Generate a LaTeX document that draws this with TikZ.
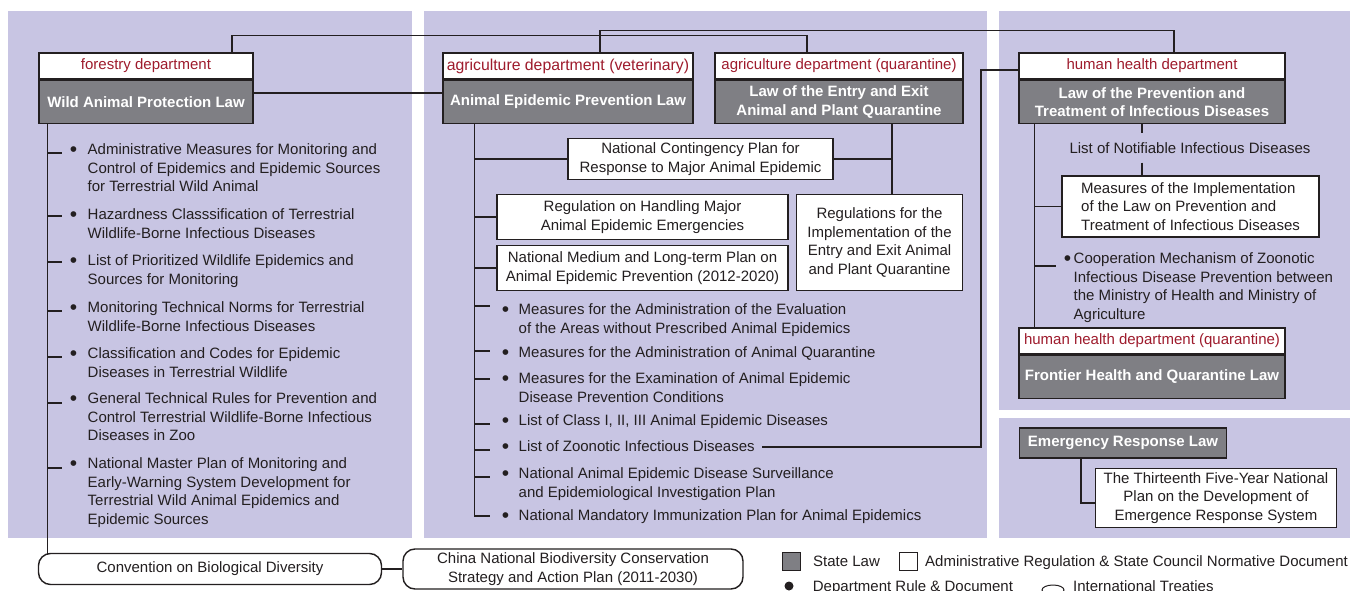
\documentclass[tikz,border=0pt]{standalone}
\usepackage{fontspec}
\setmainfont{Liberation Sans}
\usetikzlibrary{positioning,shapes.geometric}
\definecolor{panelbg}{RGB}{200,197,227}
\definecolor{lawgray}{RGB}{127,127,132}
\definecolor{deptred}{RGB}{158,27,44}
\definecolor{ink}{RGB}{35,31,32}
\newcommand{\bul}[1]{\llap{\raisebox{-2pt}{\fontsize{21}{21}\selectfont\textbullet}\hspace{#1pt}}}

\begin{document}
\begin{tikzpicture}[x=1pt,y=-1pt,color=ink,line width=1.4pt,
  font=\fontsize{15}{18.5}\selectfont,
  dept/.style={draw,fill=white,text=deptred,minimum width=#1,minimum height=26,inner sep=0},
  law/.style={draw,fill=lawgray,text=white,font=\fontsize{15}{18.5}\selectfont\bfseries,
    minimum width=#1,minimum height=43,inner sep=0,align=center},
  reg/.style={draw,fill=white,align=center,inner sep=0},
  item/.style={anchor=north west,align=left,inner sep=0},
  treaty/.style={draw,fill=white,rounded corners=12,align=center,inner sep=0},
  key/.style={inner sep=0,text height=10.7,text depth=0}]
  \fill[white] (0,0) rectangle (1362,591);
  \useasboundingbox (0,0) rectangle (1362,591);
  % panels
  \fill[panelbg] (8,11) rectangle (412,538);
  \fill[panelbg] (424,11) rectangle (987,538);
  \fill[panelbg] (999,11) rectangle (1350,410);
  \fill[panelbg] (999,418) rectangle (1350,538);

  % forestry
  \node[dept=214] (fd) at (146,66) {forestry department};
  \node[law=214,below=0pt of fd] (fl) {Wild Animal Protection Law};
  \node[item] (w1) at (87,143) {\bul{10.4}Administrative Measures for Monitoring and\\Control of Epidemics and Epidemic Sources\\for Terrestrial Wild Animal};
  \node[item] (w2) at (87,208) {\bul{10.4}Hazardness Classsification of Terrestrial\\Wildlife-Borne Infectious Diseases};
  \node[item] (w3) at (87,254) {\bul{10.4}List of Prioritized Wildlife Epidemics and\\Sources for Monitoring};
  \node[item] (w4) at (87,301) {\bul{10.4}Monitoring Technical Norms for Terrestrial\\Wildlife-Borne Infectious Diseases};
  \node[item] (w5) at (87,347) {\bul{10.4}Classification and Codes for Epidemic\\Diseases in Terrestrial Wildlife};
  \node[item] (w6) at (87,392) {\bul{10.4}General Technical Rules for Prevention and\\Control Terrestrial Wildlife-Borne Infectious\\Diseases in Zoo};
  \node[item] (w7) at (87,457) {\bul{10.4}National Master Plan of Monitoring and\\Early-Warning System Development for\\Terrestrial Wild Animal Epidemics and\\Epidemic Sources};

  % agriculture
  \node[dept=250] (vd) at (568,66) {\fontsize{15.8}{18.5}\selectfont agriculture department (veterinary)};
  \node[law=250,below=0pt of vd] (vl) {Animal Epidemic Prevention Law};
  \node[dept=248] (qd) at (839,66) {agriculture department (quarantine)};
  \node[law=248,below=0pt of qd] (ql) {Law of the Entry and Exit\\Animal and Plant Quarantine};
  \node[reg,minimum width=265,minimum height=41] (ncp) at (700.5,159) {National Contingency Plan for\\Response to Major Animal Epidemic};
  \node[reg,minimum width=291,minimum height=45] (rh) at (642.5,217) {Regulation on Handling Major\\Animal Epidemic Emergencies};
  \node[reg,minimum width=291,minimum height=45] (nm) at (642.5,268) {National Medium and Long-term Plan on\\Animal Epidemic Prevention (2012-2020)};
  \node[reg,minimum width=166,minimum height=96] (ri) at (879.5,242.5) {Regulations for the\\Implementation of the\\Entry and Exit Animal\\and Plant Quarantine};
  \node[item] (v1) at (518,303) {\bul{9.4}Measures for the Administration of the Evaluation\\of the Areas without Prescribed Animal Epidemics};
  \node[item] (v2) at (518,346) {\bul{9.4}Measures for the Administration of Animal Quarantine};
  \node[item] (v3) at (518,372) {\bul{9.4}Measures for the Examination of Animal Epidemic\\Disease Prevention Conditions};
  \node[item] (v4) at (518,414) {\bul{9.4}List of Class I, II, III Animal Epidemic Diseases};
  \node[item] (v5) at (518,440) {\bul{9.4}List of Zoonotic Infectious Diseases};
  \node[item] (v6) at (518,467) {\bul{9.4}National Animal Epidemic Disease Surveillance\\and Epidemiological Investigation Plan};
  \node[item] (v7) at (518,509) {\bul{9.4}National Mandatory Immunization Plan for Animal Epidemics};

  % human health
  \node[dept=266] (hd) at (1152,66) {human health department};
  \node[law=266,below=0pt of hd] (hl) {Law of the Prevention and\\Treatment of Infectious Diseases};
  \node[inner sep=0,minimum height=28] (ln) at (1190,148) {List of Notifiable Infectious Diseases};
  \node[reg,align=left,minimum width=257,minimum height=61] (mi) at (1190.5,206.5) {Measures of the Implementation\\of the Law on Prevention and\\Treatment of Infectious Diseases};
  \node[item] (h1) at (1073,252) {\bul{2.4}Cooperation Mechanism of Zoonotic\\Infectious Disease Prevention between\\the Ministry of Health and Ministry of\\Agriculture};
  \node[dept=266] (hqd) at (1152,341) {human health department (quarantine)};
  \node[law=266,below=0pt of hqd] (hql) {Frontier Health and Quarantine Law};
  \node[law=207,minimum height=30] (em) at (1123,443) {Emergency Response Law};
  \node[reg,minimum width=241,minimum height=59] (tt) at (1216,498) {The Thirteenth Five-Year National\\Plan on the Development of\\Emergence Response System};

  % treaties
  \node[treaty,minimum width=343,minimum height=31] (cv) at (210,569) {Convention on Biological Diversity};
  \node[treaty,minimum width=340,minimum height=40] (cn) at (573,569) {China National Biodiversity Conservation\\Strategy and Action Plan (2011-2030)};

  % legend
  \node[draw,fill=lawgray,minimum size=18,inner sep=0,line width=1pt] (kl) at (791,561) {};
  \node[key,right=12pt of kl] (klt) {State Law};
  \node[draw,fill=white,minimum size=18,inner sep=0,line width=1pt] (kr) at (908,561.5) {};
  \node[key,right=7pt of kr] (krt) {Administrative Regulation \& State Council Normative Document};
  \node[circle,fill,minimum size=9,inner sep=0] (kd) at (789,586) {};
  \node[key,right=18pt of kd] (kdt) {Department Rule \& Document};
  \node[ellipse,draw,line width=1pt,minimum width=22,minimum height=10,inner sep=0] (ke) at (1053,590) {};
  \node[key,anchor=west] (ket) at ([xshift=8]ke.east |- kd) {International Treaties};

  % connectors
  \draw ([xshift=86]fd.north) -- ++(0,-17) -| ([xshift=-32]qd.north);
  \draw ([xshift=32]vd.north) -- ++(0,-22) -| ([xshift=22]hd.north);
  \draw ([yshift=9]fl.east) -- ([yshift=9]vl.west);
  \coordinate (wt) at ([xshift=9]fl.south west);
  \draw (wt) -- ([yshift=-1]wt |- cv.north);
  \draw (wt |- w1.north) ++(0,10) -- ++(15,0); \draw (wt |- w2.north) ++(0,8) -- ++(15,0);
  \draw (wt |- w3.north) ++(0,8) -- ++(15,0); \draw (wt |- w4.north) ++(0,10) -- ++(15,0);
  \draw (wt |- w5.north) ++(0,10) -- ++(15,0); \draw (wt |- w6.north) ++(0,11) -- ++(15,0);
  \draw (wt |- w7.north) ++(0,11) -- ++(15,0);
  \draw (cv.east) -- (cn.west);

  \coordinate (vt) at ([xshift=32]vl.south west);
  \coordinate (qt) at ([xshift=53]ql.south);
  \draw (vt) |- ([xshift=-28,yshift=-7]v7.north west);
  \draw (vt |- ncp.west) -- (ncp.west); \draw (ncp.east) -- (qt |- ncp.east);
  \draw (qt) -- (qt |- ri.north);
  \draw (vt |- rh.west) -- (rh.west); \draw (vt |- nm.west) -- (nm.west);
  \draw (vt |- v1.north) ++(0,3) -- ++(16,0); \draw (vt |- v2.north) ++(0,5) -- ++(16,0);
  \draw (vt |- v3.north) ++(0,7) -- ++(16,0); \draw (vt |- v4.north) ++(0,10) -- ++(16,0);
  \draw (vt |- v5.north) ++(0,10) -- ++(16,0); \draw (vt |- v6.north) ++(0,10) -- ++(16,0);
  \coordinate (zx) at (981,0);
  \draw ([xshift=7]v5.east) -| ([yshift=-4]zx |- hd.west) -- ([yshift=-4]hd.west);

  \coordinate (ht) at ([xshift=16]hl.south west);
  \coordinate (nx) at ([xshift=-10]hl.south);
  \draw (ht) -- (ht |- hqd.north);
  \draw (nx) -- (nx |- ln.north); \draw (nx |- ln.south) -- (nx |- mi.north);
  \draw (ht |- mi.west) -- (mi.west);
  \draw (ht |- h1.north) ++(0,14) -- ++(22,0);
  \coordinate (et) at ([xshift=-42]em.south);
  \draw (et) |- ([yshift=-5]tt.west);
\end{tikzpicture}
\end{document}
